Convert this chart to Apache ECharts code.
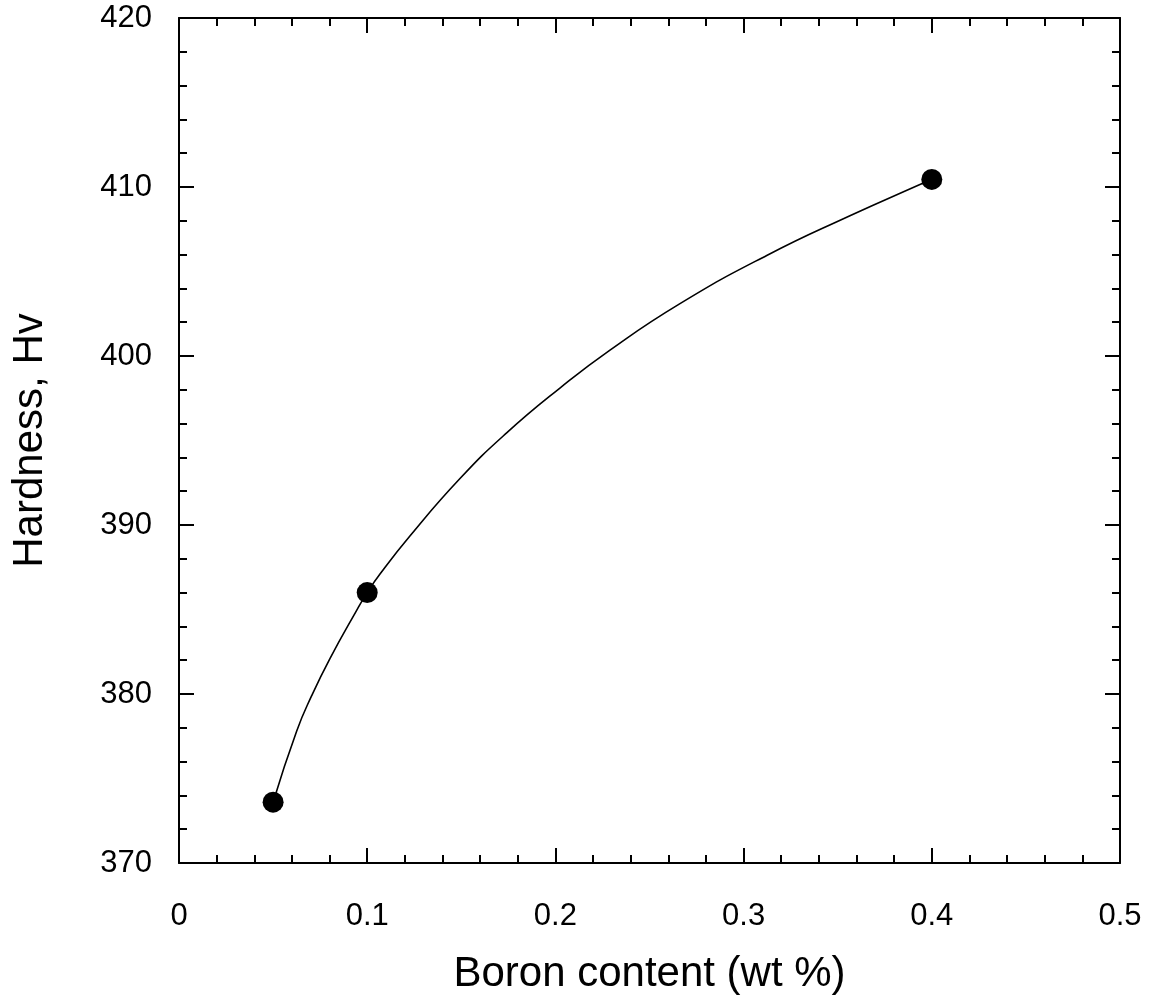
<!DOCTYPE html>
<html>
<head>
<meta charset="utf-8">
<script src="https://cdn.jsdelivr.net/npm/echarts@6/dist/echarts.min.js"></script>
<style>
html,body{margin:0;padding:0;background:#fff;}
#main{width:1156px;height:1004px;}
</style>
</head>
<body>
<div id="main"></div>
<script>
// Measured data points (wt % B, Hv)
const boron = [0.05, 0.1, 0.4];
const hardness = [373.6, 386.0, 410.45];
// Fitted curve, points
const curveX = [0.05, 0.0625, 0.0705, 0.0802, 0.0944, 0.1, 0.1068, 0.1227, 0.1493, 0.1741, 0.2024, 0.229, 0.2662, 0.3123, 0.3565, 0.3937, 0.4];
const curveY = [373.6, 377.8, 379.9, 382.1, 384.95, 386.0, 387.1, 389.35, 392.75, 395.45, 398.1, 400.35, 403.1, 405.95, 408.3, 410.15, 410.45];
const xTicks = ['0', '0.1', '0.2', '0.3', '0.4', '0.5'];
const yTicks = ['370', '380', '390', '400', '410', '420'];

const font = 'Liberation Sans, Arial, sans-serif';
const chart = echarts.init(document.getElementById('main'), null, {renderer: 'canvas'});

function axisBase(extra) {
  return Object.assign({
    axisLine: {show: true, onZero: false, lineStyle: {color: '#000', width: 2}},
    axisTick: {show: true, inside: true, length: 15, lineStyle: {color: '#000', width: 2}},
    minorTick: {show: true, splitNumber: 5, length: 8, lineStyle: {color: '#000', width: 2}},
    splitLine: {show: false},
    minorSplitLine: {show: false}
  }, extra);
}

const option = {
  animation: false,
  backgroundColor: '#fff',
  grid: {left: 179, right: 36, top: 18, bottom: 141, containLabel: false},
  xAxis: [
    axisBase({
      type: 'value', position: 'bottom', min: 0, max: 0.5, interval: 0.1,
      name: 'Boron content (wt %)', nameLocation: 'middle', nameGap: 90,
      nameTextStyle: {fontFamily: font, fontSize: 42, color: '#000'},
      axisLabel: {show: true, margin: 38, fontFamily: font, fontSize: 31, color: '#000',
        formatter: function (v) { const i = Math.round(v / 0.1); return xTicks[i]; }}
    }),
    axisBase({
      type: 'value', position: 'top', min: 0, max: 0.5, interval: 0.1,
      axisLabel: {show: false}
    })
  ],
  yAxis: [
    axisBase({
      type: 'value', position: 'left', min: 370, max: 420, interval: 10,
      name: 'Hardness, Hv', nameLocation: 'middle', nameGap: 128, nameRotate: 90,
      nameTextStyle: {fontFamily: font, fontSize: 42, color: '#000'},
      axisLabel: {show: true, margin: 27, fontFamily: font, fontSize: 31, color: '#000',
        formatter: function (v) { const i = Math.round((v - 370) / 10); return yTicks[i]; }}
    }),
    axisBase({
      type: 'value', position: 'right', min: 370, max: 420, interval: 10,
      axisLabel: {show: false}
    })
  ],
  series: [
    {
      type: 'line', xAxisIndex: 0, yAxisIndex: 0,
      data: curveX.map((x, i) => [x, curveY[i]]),
      smooth: 0.5, showSymbol: false, symbol: 'none',
      lineStyle: {color: '#000', width: 1.6}, z: 2
    },
    {
      type: 'scatter', xAxisIndex: 0, yAxisIndex: 0,
      data: boron.map((x, i) => [x, hardness[i]]),
      symbol: 'circle', symbolSize: 21,
      itemStyle: {color: '#000', opacity: 1}, z: 3
    }
  ]
};
chart.setOption(option);
</script>
</body>
</html>
